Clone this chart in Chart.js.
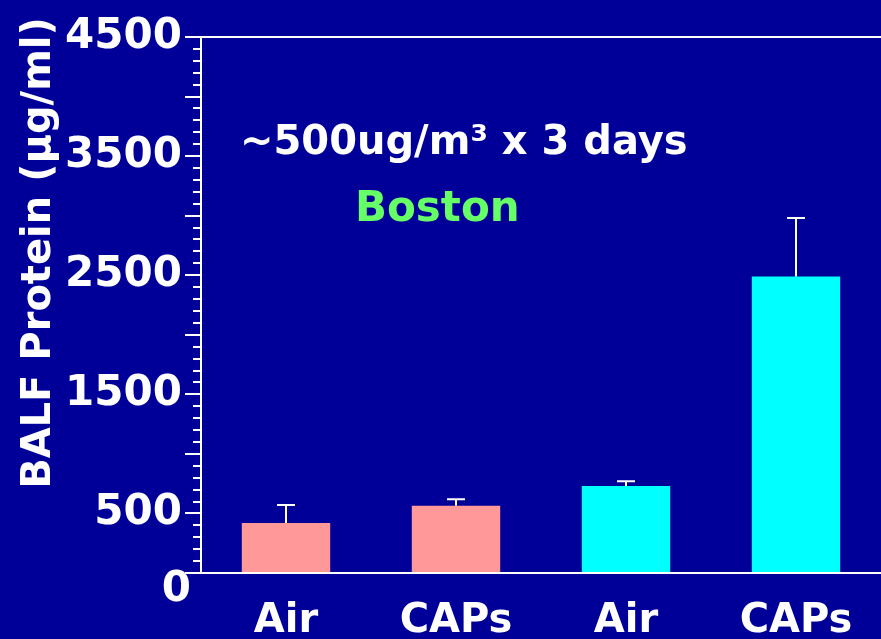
<!DOCTYPE html>
<html>
<head>
<meta charset="utf-8">
<script src="https://cdn.jsdelivr.net/npm/chart.js@4/dist/chart.umd.min.js"></script>
<style>
  html, body { margin: 0; padding: 0; background: #000099; overflow: hidden; }
  canvas { display: block; }
</style>
</head>
<body>
<canvas id="protein-chart" width="881" height="639"></canvas>
<script>
// Valores do gráfico
const categories = ['Air', 'CAPs', 'Air', 'CAPs'];
const proteinMeans = [420, 565, 730, 2490];
const proteinErrors = [150, 55, 40, 490];
const yTickLabels = [500, 1500, 2500, 3500, 4500];

const BG = '#000099';
const FONT = "'DejaVu Sans', sans-serif";

// Fundo, tracinhos menores, barras de erro e textos soltos
const extras = {
    id: 'extras',
    beforeDraw(chart) {
        const c = chart.ctx;
        c.save();
        c.fillStyle = BG;
        c.fillRect(0, 0, chart.width, chart.height);
        c.restore();
    },
    afterDatasetsDraw(chart) {
        const c = chart.ctx;
        const y = chart.scales.y;
        const meta = chart.getDatasetMeta(0);
        c.save();
        c.strokeStyle = '#ffffff';
        c.lineWidth = 2;

        // tracinhos menores a cada 100
        for (let v = 100; v < 4500; v += 100) {
            if (v % 500 === 0) continue;
            const py = Math.round(y.getPixelForValue(v));
            c.beginPath();
            c.moveTo(y.right - 8, py);
            c.lineTo(y.right, py);
            c.stroke();
        }

        // barras de erro (só para cima)
        meta.data.forEach((bar, i) => {
            const top = y.getPixelForValue(proteinMeans[i] + proteinErrors[i]);
            c.beginPath();
            c.moveTo(bar.x, bar.y);
            c.lineTo(bar.x, top);
            c.moveTo(bar.x - 9, top);
            c.lineTo(bar.x + 9, top);
            c.stroke();
        });

        // rótulo do zero, abaixo do eixo
        c.fillStyle = '#ffffff';
        c.font = `bold 42px ${FONT}`;
        c.textAlign = 'right';
        c.textBaseline = 'middle';
        c.fillText('0', 191, 590);

        // título do eixo y
        c.save();
        c.translate(40, 253);
        c.rotate(-Math.PI / 2);
        c.textAlign = 'center';
        c.font = `bold 40px ${FONT}`;
        c.fillText('BALF Protein (μg/ml)', 0, 0);
        c.restore();

        // anotações
        c.textAlign = 'left';
        c.textBaseline = 'alphabetic';
        c.font = `bold 40px ${FONT}`;
        c.fillText('~500ug/m³ x 3 days', 240, 154);
        c.fillStyle = '#66ff66';
        c.font = `bold 42px ${FONT}`;
        c.fillText('Boston', 355, 221);
        c.restore();
    }
};

new Chart(document.getElementById('protein-chart'), {
    type: 'bar',
    data: {
        labels: categories,
        datasets: [{
            data: proteinMeans,
            backgroundColor: ['#ff9999', '#ff9999', '#00ffff', '#00ffff'],
            borderWidth: 0,
            barPercentage: 0.52,
            categoryPercentage: 1
        }]
    },
    options: {
        responsive: false,
        devicePixelRatio: 1,
        animation: false,
        layout: { padding: { top: 37, left: 0, right: 0, bottom: 0 } },
        plugins: {
            legend: { display: false },
            tooltip: { enabled: false }
        },
        scales: {
            x: {
                grid: { display: true, drawOnChartArea: false, drawTicks: false },
                border: { display: true, color: '#ffffff', width: 2 },
                ticks: {
                    color: '#ffffff',
                    padding: 25,
                    font: { family: FONT, size: 40, weight: 'bold' }
                },
                afterFit(scale) { scale.height = 66; }
            },
            y: {
                min: 0,
                max: 4500,
                ticks: {
                    stepSize: 500,
                    color: '#ffffff',
                    padding: 3,
                    font: { family: FONT, size: 42, weight: 'bold' },
                    callback: v => yTickLabels.includes(v) ? String(v) : ''
                },
                grid: {
                    drawOnChartArea: true,
                    color: ctx => ctx.tick && ctx.tick.value === 4500 ? '#ffffff' : 'rgba(0,0,0,0)',
                    lineWidth: 2,
                    tickColor: '#ffffff',
                    tickLength: 16,
                    tickWidth: 2
                },
                border: { display: true, color: '#ffffff', width: 2 },
                afterFit(scale) { scale.width = 201; }
            }
        }
    },
    plugins: [extras]
});
</script>
</body>
</html>
